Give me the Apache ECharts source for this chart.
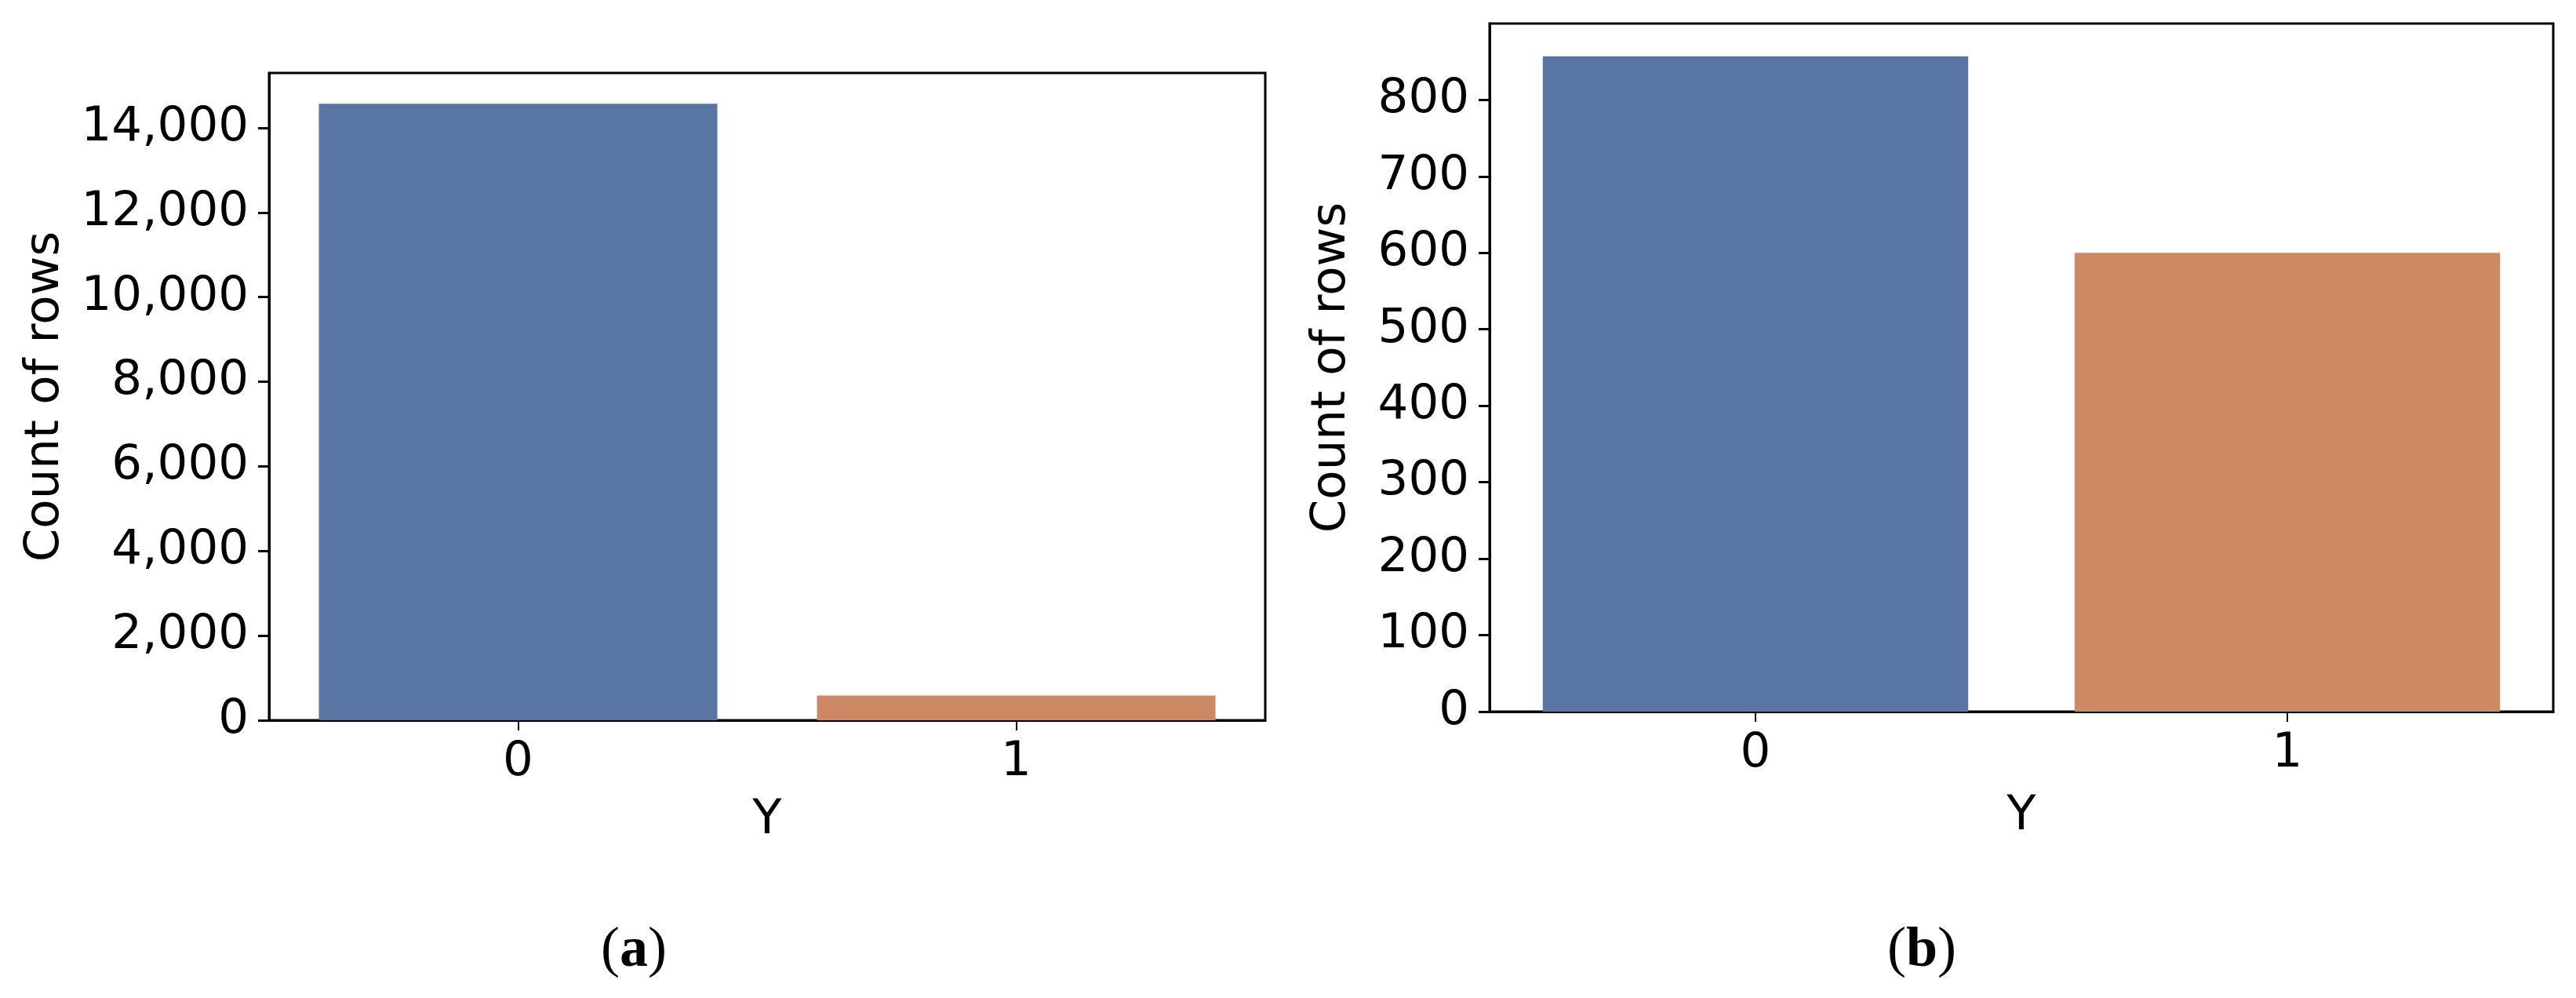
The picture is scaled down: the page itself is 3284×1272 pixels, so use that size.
<!DOCTYPE html>
<html>
<head>
<meta charset="utf-8">
<script src="https://cdn.jsdelivr.net/npm/echarts@6/dist/echarts.min.js"></script>
<style>
  html, body { margin: 0; padding: 0; background: #fff; }
  #chart { width: 3284px; height: 1272px; }
</style>
</head>
<body>
<div id="chart"></div>
<script>
// values
var categories = ['0', '1'];
var countsA = [14570, 585];   // panel (a)
var countsB = [857, 600];     // panel (b)
var ticksA = [0, 2000, 4000, 6000, 8000, 10000, 12000, 14000];
var ticksB = [0, 100, 200, 300, 400, 500, 600, 700, 800];
var barColors = ['#5975a4', '#cc8963'];

var font = 'DejaVu Sans';
var fs = 61;
var black = '#000';

function xAxisFor(idx, gap) {
  return {
    type: 'category',
    gridIndex: idx,
    data: categories,
    name: 'Y',
    nameLocation: 'middle',
    nameGap: gap,
    nameTextStyle: { fontFamily: font, fontSize: fs, color: black },
    axisLine: { show: true, lineStyle: { color: black, width: 3 } },
    axisTick: { show: true, alignWithLabel: true, length: 13, lineStyle: { color: black, width: 2 } },
    axisLabel: { fontFamily: font, fontSize: fs, color: black, margin: 24 },
    splitLine: { show: false }
  };
}

function yAxisFor(idx, ticks, step, gap) {
  return {
    type: 'value',
    gridIndex: idx,
    min: 0,
    max: function (v) { return v.max * 1.05; },
    interval: step,
    name: 'Count of rows',
    nameLocation: 'middle',
    nameRotate: 90,
    nameGap: gap,
    nameTextStyle: { fontFamily: font, fontSize: fs, color: black },
    axisLine: { show: true, lineStyle: { color: black, width: 3 } },
    axisTick: { show: true, length: 14, customValues: ticks, lineStyle: { color: black, width: 3 } },
    axisLabel: { fontFamily: font, fontSize: fs, color: black, margin: 26, customValues: ticks },
    splitLine: { show: false }
  };
}

var chart = echarts.init(document.getElementById('chart'), null, { renderer: 'canvas' });

chart.setOption({
  animation: false,
  backgroundColor: '#fff',
  color: barColors,
  grid: [
    { left: 343, top: 93, width: 1270, height: 825, show: true, borderColor: black, borderWidth: 3, containLabel: false },
    { left: 1899, top: 30, width: 1356, height: 877, show: true, borderColor: black, borderWidth: 3, containLabel: false }
  ],
  xAxis: [xAxisFor(0, 98), xAxisFor(1, 104)],
  yAxis: [yAxisFor(0, ticksA, 2000, 254), yAxisFor(1, ticksB, 100, 170)],
  series: [
    { type: 'bar', xAxisIndex: 0, yAxisIndex: 0, data: countsA, colorBy: 'data', barWidth: '80%' },
    { type: 'bar', xAxisIndex: 1, yAxisIndex: 1, data: countsB, colorBy: 'data', barWidth: '80%' }
  ],
  graphic: [
    {
      type: 'text', x: 808, y: 1212,
      style: {
        text: '({b|a})', align: 'center', verticalAlign: 'middle',
        fontFamily: 'Liberation Serif', fontSize: 72, fill: black,
        rich: { b: { fontFamily: 'Liberation Serif', fontSize: 72, fontWeight: 'bold', fill: black } }
      }
    },
    {
      type: 'text', x: 2450, y: 1212,
      style: {
        text: '({b|b})', align: 'center', verticalAlign: 'middle',
        fontFamily: 'Liberation Serif', fontSize: 72, fill: black,
        rich: { b: { fontFamily: 'Liberation Serif', fontSize: 72, fontWeight: 'bold', fill: black } }
      }
    }
  ]
});
</script>
</body>
</html>
